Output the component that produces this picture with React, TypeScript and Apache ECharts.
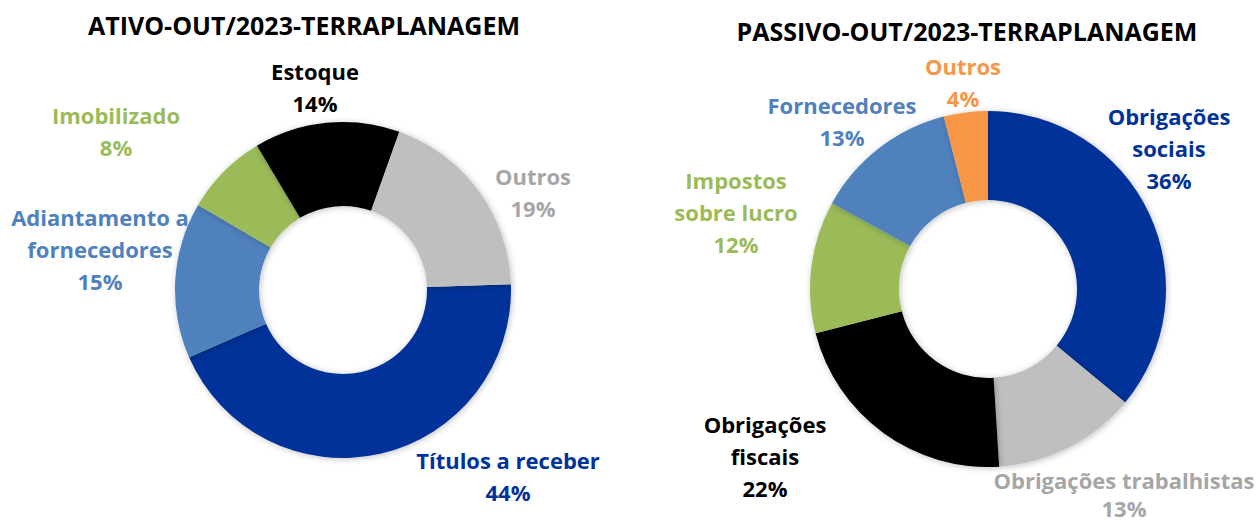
import React, { useEffect, useRef } from "react";
import * as echarts from "echarts";

const ativoTitle = "ATIVO-OUT/2023-TERRAPLANAGEM";
const passivoTitle = "PASSIVO-OUT/2023-TERRAPLANAGEM";

const ativoCategories = ["Títulos a receber", "Adiantamento a\nfornecedores", "Imobilizado", "Estoque", "Outros"];
const ativoValues = [44, 15, 8, 14, 19];
const ativoColors = ["#003399", "#4F81BD", "#9BBB59", "#000000", "#BFBFBF"];
const ativoLabelColors = ["#003399", "#4F81BD", "#9BBB59", "#000000", "#A6A6A6"];

const passivoCategories = ["Obrigações\nsociais", "Obrigações trabalhistas", "Obrigações\nfiscais", "Impostos\nsobre lucro", "Fornecedores", "Outros"];
const passivoValues = [36, 13, 22, 12, 13, 4];
const passivoColors = ["#003399", "#BFBFBF", "#000000", "#9BBB59", "#4F81BD", "#F79646"];
const passivoLabelColors = ["#003399", "#A6A6A6", "#000000", "#9BBB59", "#4F81BD", "#F79646"];

// label anchor positions and line heights (layout only)
const ativoLabelPos: [number, number][] = [[508, 476], [100, 249], [116, 131], [315, 87], [533, 192]];
const passivoLabelPos: [number, number][] = [[1169, 148], [1124, 494], [765, 456], [736, 212], [842, 121], [963, 82]];
const passivoLineHeights = [32, 28, 32, 32, 32, 32];

const FONT = "'Open Sans', Lato, sans-serif";

function buildData(cats: string[], vals: number[], colors: string[], labelColors: string[], lineHeights?: number[]) {
  return cats.map((c, i) => ({
    name: c,
    value: vals[i],
    itemStyle: { color: colors[i] },
    label: { color: labelColors[i], lineHeight: lineHeights ? lineHeights[i] : 32 },
  }));
}

export default function App() {
  const ref = useRef<HTMLDivElement>(null);
  useEffect(() => {
    if (!ref.current) return;
    const chart = echarts.init(ref.current, undefined, { renderer: "svg" });
    const labelCommon = {
      show: true,
      position: "outside",
      formatter: (p: any) => `${p.name}\n${p.value}%`,
      fontFamily: FONT,
      fontWeight: "bold",
      fontSize: 22,
      lineHeight: 32,
      align: "center",
    };
    const itemShadow = {
      borderWidth: 0,
      shadowBlur: 6,
      shadowColor: "rgba(0,0,0,0.25)",
      shadowOffsetX: 1,
      shadowOffsetY: 1,
    };
    const titleStyle = { fontFamily: FONT, fontWeight: "bold", fontSize: 25, color: "#000", lineHeight: 28 };
    chart.setOption({
      animation: false,
      backgroundColor: "#ffffff",
      title: [
        { text: ativoTitle, left: 304, top: 11, textAlign: "center", padding: 0, textStyle: titleStyle },
        { text: passivoTitle, left: 967, top: 17, textAlign: "center", padding: 0, textStyle: titleStyle },
      ],
      series: [
        {
          type: "pie",
          center: [343, 290],
          radius: [84, 168],
          startAngle: 2,
          clockwise: true,
          avoidLabelOverlap: false,
          itemStyle: itemShadow,
          label: labelCommon,
          labelLine: { show: false },
          labelLayout: (p: any) => ({
            x: ativoLabelPos[p.dataIndex][0],
            y: ativoLabelPos[p.dataIndex][1],
            align: "center",
            verticalAlign: "middle",
          }),
          emphasis: { disabled: true },
          data: buildData(ativoCategories, ativoValues, ativoColors, ativoLabelColors),
        },
        {
          type: "pie",
          center: [988, 289],
          radius: [89, 178],
          startAngle: 90,
          clockwise: true,
          avoidLabelOverlap: false,
          itemStyle: itemShadow,
          label: labelCommon,
          labelLine: { show: false },
          labelLayout: (p: any) => ({
            x: passivoLabelPos[p.dataIndex][0],
            y: passivoLabelPos[p.dataIndex][1],
            align: "center",
            verticalAlign: "middle",
          }),
          emphasis: { disabled: true },
          data: buildData(passivoCategories, passivoValues, passivoColors, passivoLabelColors, passivoLineHeights),
        },
      ],
    });
    return () => chart.dispose();
  }, []);
  return (
    <div
      ref={ref}
      style={{ position: "fixed", left: 0, top: 0, width: 1256, height: 522, background: "#fff" }}
    />
  );
}
